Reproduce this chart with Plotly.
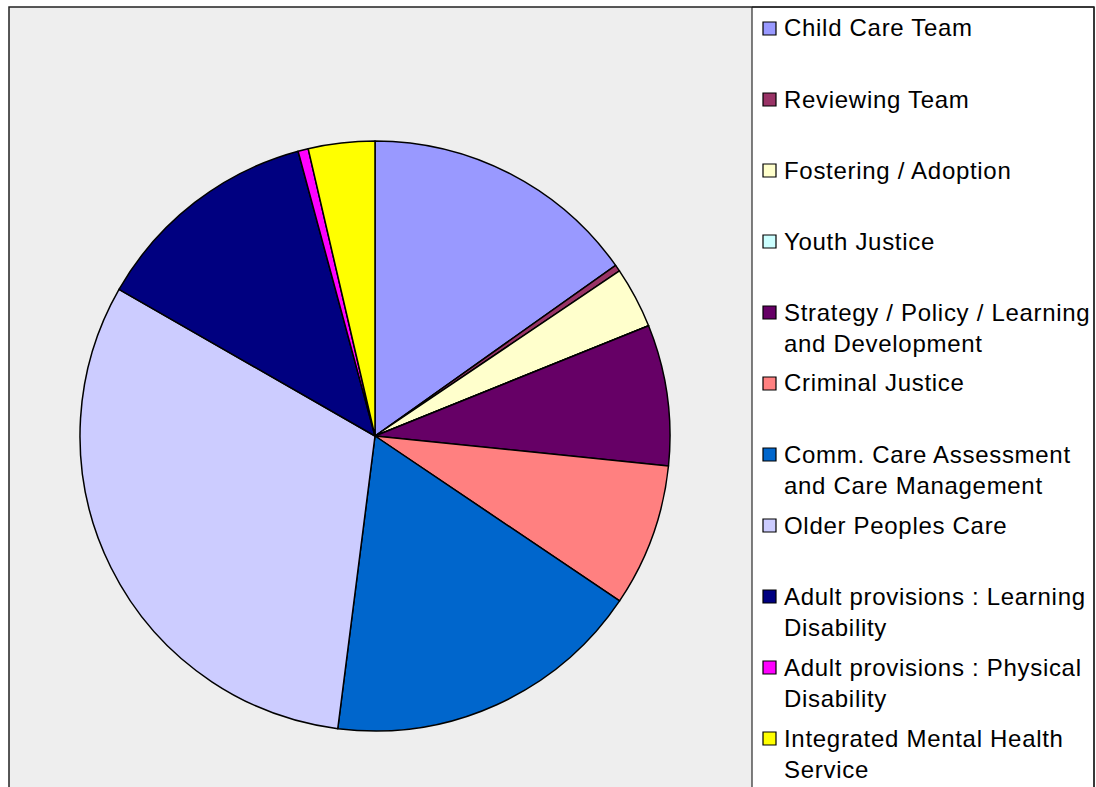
import plotly.graph_objects as go

# Share of staffing by service area
labels = [
    "Child Care Team",
    "Reviewing Team",
    "Fostering / Adoption",
    "Youth Justice",
    "Strategy / Policy / Learning and Development",
    "Criminal Justice",
    "Comm. Care Assessment and Care Management",
    "Older Peoples Care",
    "Adult provisions : Learning Disability",
    "Adult provisions : Physical Disability",
    "Integrated Mental Health Service",
]
legend_text = [
    "Child Care Team",
    "Reviewing Team",
    "Fostering / Adoption",
    "Youth Justice",
    "Strategy / Policy / Learning<br>and Development",
    "Criminal Justice",
    "Comm. Care Assessment<br>and Care Management",
    "Older Peoples Care",
    "Adult provisions : Learning<br>Disability",
    "Adult provisions : Physical<br>Disability",
    "Integrated Mental Health<br>Service",
]
values = [15.19, 0.36, 3.36, 0.0, 7.72, 7.83, 17.58, 31.28, 12.53, 0.56, 3.64]
colors = [
    "#9999FF", "#993366", "#FFFFCC", "#CCFFFF", "#660066", "#FF8080",
    "#0066CC", "#CCCCFF", "#000080", "#FF00FF", "#FFFF00",
]

W, H = 1096, 787


def px(x):
    return x / W


def py(y):
    return 1 - y / H


fig = go.Figure(
    go.Pie(
        labels=labels,
        values=values,
        sort=False,
        direction="clockwise",
        rotation=0,
        marker=dict(colors=colors, line=dict(color="#000000", width=1.5)),
        textinfo="none",
        showlegend=False,
        domain=dict(x=[px(80), px(670)], y=[py(731), py(141)]),
    )
)

shapes = [
    # chart area background
    dict(type="rect", xref="paper", yref="paper", layer="below",
         x0=px(9), x1=px(752), y0=py(800), y1=py(7),
         fillcolor="#EEEEEE", line=dict(width=0)),
    # legend panel
    dict(type="rect", xref="paper", yref="paper", layer="below",
         x0=px(752), x1=px(1094), y0=py(800), y1=py(7),
         fillcolor="#FFFFFF", line=dict(color="#000000", width=1)),
    # outer frame
    dict(type="rect", xref="paper", yref="paper", layer="above",
         x0=px(9), x1=px(1094), y0=py(800), y1=py(7),
         fillcolor="rgba(0,0,0,0)", line=dict(color="#222222", width=1.5)),
]

annotations = []
slot_top = 28
slot_step = 71
line_gap = 31
for i, (txt, col) in enumerate(zip(legend_text, colors)):
    yc = slot_top + i * slot_step
    shapes.append(dict(
        type="rect", xref="paper", yref="paper", layer="above",
        x0=px(763), x1=px(776), y0=py(yc + 7), y1=py(yc - 6),
        fillcolor=col, line=dict(color="#000000", width=1.2),
    ))
    n_lines = txt.count("<br>") + 1
    spaced = "<br>".join(
        f'<span style="letter-spacing:0.7px">{part}</span>' for part in txt.split("<br>")
    )
    annotations.append(dict(
        xref="paper", yref="paper", x=px(782), y=py(yc + (n_lines - 1) * line_gap / 2),
        xanchor="left", yanchor="middle", align="left", showarrow=False,
        text=spaced, font=dict(family="Liberation Sans, Arial, sans-serif", size=24, color="#000000"),
    ))

fig.update_layout(
    width=W, height=H,
    margin=dict(l=0, r=0, t=0, b=0),
    paper_bgcolor="#FFFFFF",
    shapes=shapes,
    annotations=annotations,
)

fig.write_html("out.html", config={"displayModeBar": False})
